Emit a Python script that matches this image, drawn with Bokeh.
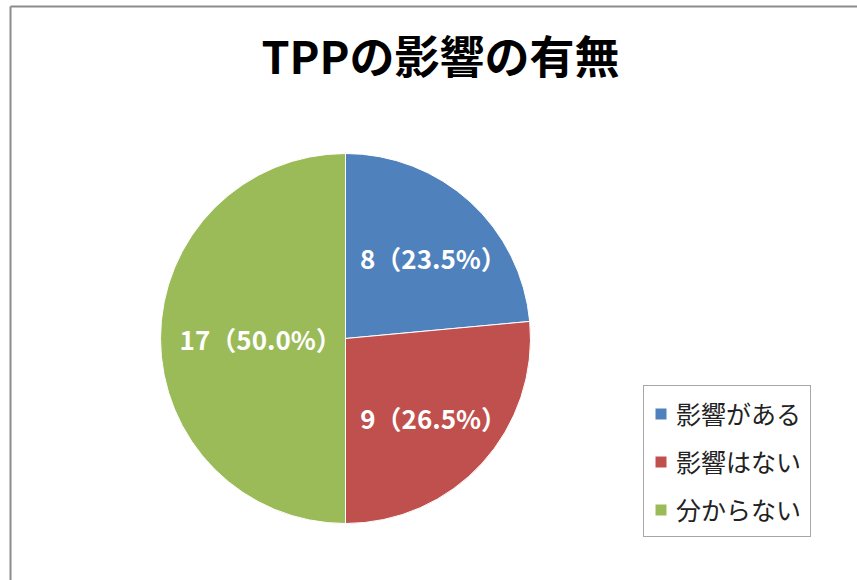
import math
from bokeh.plotting import figure
from bokeh.models import ColumnDataSource, Range1d, Label, Legend, LegendItem
from bokeh.embed import file_html
from bokeh.resources import INLINE
from bokeh.core.properties import value

# ---- data ----
title_text = "TPPの影響の有無"
categories = ["影響がある", "影響はない", "分からない"]
counts = [8, 9, 17]
colors = ["#4F81BD", "#C0504D", "#9BBB59"]

# ---- layout / style ----
W, H = 857, 580
CX, CY, R = 345, H - 338, 185
label_r = [0.593, 0.63, 0.48]
label_dx = [14, 2, 4]
FONT = "Noto Sans CJK JP"

total = sum(counts)
starts, ends, lx, ly, texts = [], [], [], [], []
cum = 0
for i, c in enumerate(counts):
    a0 = math.pi / 2 - 2 * math.pi * cum / total
    cum += c
    a1 = math.pi / 2 - 2 * math.pi * cum / total
    starts.append(a0)
    ends.append(a1)
    mid = (a0 + a1) / 2
    lx.append(CX + label_r[i] * R * math.cos(mid) + label_dx[i])
    ly.append(CY + label_r[i] * R * math.sin(mid))
    texts.append(f"{c}（{100 * c / total:.1f}%）")

src = ColumnDataSource(dict(cat=categories, start=starts, end=ends, color=colors,
                            x=[CX] * len(counts), y=[CY] * len(counts)))
lab = ColumnDataSource(dict(x=lx, y=ly, text=texts))

p = figure(width=W, height=H, x_range=Range1d(0, W), y_range=Range1d(0, H),
           output_backend="svg", toolbar_location=None, min_border=0)
p.axis.visible = False
p.grid.visible = False
p.outline_line_color = None
p.background_fill_color = "white"
p.border_fill_color = "white"

# chart area border (top and left visible)
p.segment(x0=[10, 10], y0=[H - 6, H - 6], x1=[W + 5, 10], y1=[H - 6, -5],
          line_color="#8c8c8c", line_width=2)

wr = p.wedge(x="x", y="y", radius=R, start_angle="start", end_angle="end",
             direction="clock", fill_color="color", line_color="white",
             line_width=1, source=src)

p.text(x="x", y="y", text="text", source=lab, text_color="white",
       text_font=value(FONT), text_font_style="bold", text_font_size="26px",
       text_align="center", text_baseline="middle")

p.add_layout(Label(x=440, y=H - 54, text=title_text, text_font=FONT,
                   text_font_style="bold", text_font_size="45px",
                   text_color="black", text_align="center",
                   text_baseline="middle"))

legend = Legend(items=[LegendItem(label=categories[i], renderers=[wr], index=i)
                       for i in range(len(categories))],
                location=(643, 43))
legend.border_line_color = "#505050"
legend.border_line_width = 1
legend.padding = 9
legend.spacing = 12
legend.margin = 0
legend.glyph_width = 15
legend.glyph_height = 15
legend.label_standoff = 8
legend.label_height = 26
legend.label_text_font = FONT
legend.label_text_font_size = "25px"
legend.label_text_color = "#222222"
legend.background_fill_alpha = 1
p.add_layout(legend)

open("out.html", "w").write(file_html(p, INLINE))
